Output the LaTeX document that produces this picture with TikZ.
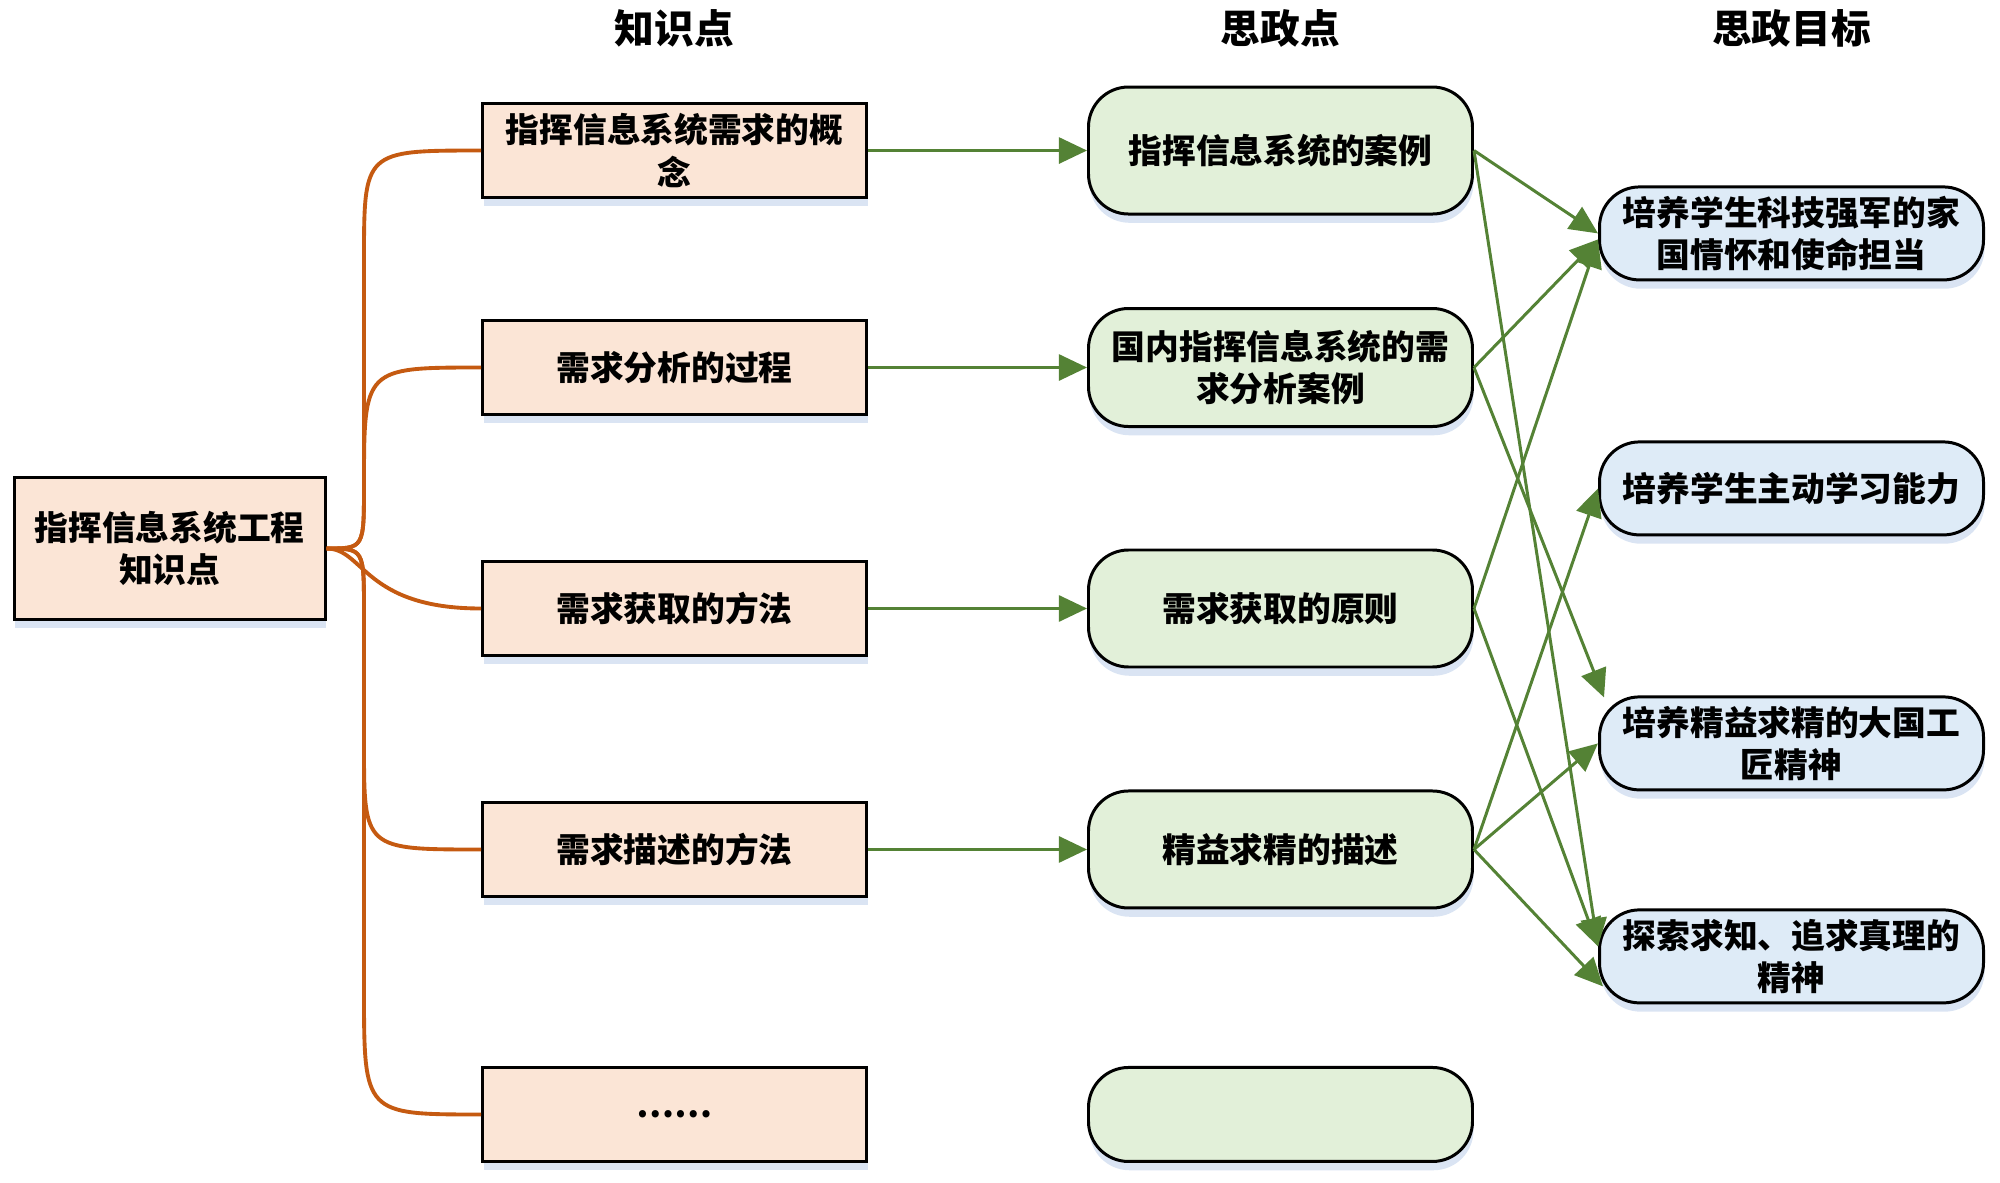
\documentclass[tikz,border=0pt]{standalone}
\usepackage{fontspec}
\setmainfont{Noto Sans CJK SC}
\usepackage{xcolor}
\usepackage{tikz}
\usetikzlibrary{positioning, calc, arrows.meta, shadows}
\definecolor{kpfill}{RGB}{251,229,214}
\definecolor{szfill}{RGB}{226,240,217}
\definecolor{goalfill}{RGB}{222,235,247}
\definecolor{kpline}{RGB}{197,90,17}
\definecolor{szline}{RGB}{84,130,53}
\definecolor{shade}{RGB}{218,228,243}

\begin{document}
\begin{tikzpicture}[
    > = {Triangle[length=8pt, width=7.4pt]}, align=center,
    font = \fontsize{9.6}{12}\selectfont\bfseries,
    box/.style = {draw, line width=0.85pt, inner sep=1pt, minimum width=3.84cm, minimum height=0.94cm,
                  drop shadow={shadow xshift=0.3pt, shadow yshift=-2.5pt, fill=shade, opacity=1}},
    knowledge/.style = {box, rectangle, fill=kpfill},
    ideology/.style = {box, rounded corners=0.4cm, fill=szfill},
    goal/.style = {box, rounded corners=0.4cm, fill=goalfill, minimum height=0.93cm},
    header/.style = {font=\fontsize{11.3}{13}\selectfont\bfseries},
    branch/.style = {draw=kpline, line width=1.1pt},
    link/.style = {->, draw=szline, line width=0.85pt},
    ]
    \useasboundingbox (0,0) rectangle (20,-11.82);

    % left: root and knowledge points
    \node [knowledge, minimum width=3.11cm, minimum height=1.42cm] (root) at (1.697,-5.485) {指挥信息系统工程\\知识点};
    \node [knowledge] (kp1) at (6.745,-1.505) {指挥信息系统需求的概\\念};
    \node [knowledge] (kp2) [below = 1.2cm of kp1]  {需求分析的过程};
    \node [knowledge] (kp3) [below = 1.44cm of kp2] {需求获取的方法};
    \node [knowledge] (kp4) [below = 1.44cm of kp3] {需求描述的方法};
    \node [knowledge] (kp5) [below = 1.68cm of kp4] {……};

    % middle: ideological points
    \node [ideology, minimum height=1.27cm] (sz1) [right = 2.19cm of kp1] {指挥信息系统的案例};
    \node [ideology, minimum height=1.18cm] (sz2) [right = 2.19cm of kp2] {国内指挥信息系统的需\\求分析案例};
    \node [ideology, minimum height=1.17cm] (sz3) [right = 2.19cm of kp3] {需求获取的原则};
    \node [ideology, minimum height=1.17cm] (sz4) [right = 2.19cm of kp4] {精益求精的描述};
    \node [ideology]                        (sz5) [right = 2.19cm of kp5] {};

    % right: goals
    \node [goal] (goal1) at (17.915,-2.334) {培养学生科技强军的家\\国情怀和使命担当};
    \node [goal] (goal2) [below = 1.59cm of goal1] {培养学生主动学习能力};
    \node [goal] (goal3) [below = 1.59cm of goal2] {培养精益求精的大国工\\匠精神};
    \node [goal] (goal4) [below = 1.17cm of goal3] {探索求知、追求真理的\\精神};

    % column titles
    \node [header] (hkp)   at (kp1 |- 0,-0.28)   {知识点};
    \node [header] (hsz)   at (sz1 |- 0,-0.28)   {思政点};
    \node [header] (hgoal) at (goal1 |- 0,-0.28) {思政目标};

    % draw branches
    \draw [branch] (root.east) .. controls (3.64,-5.485) .. (3.64,-4.85) -- (3.64,-2.6) .. controls (3.64,-1.505) .. (kp1.west);
    \draw [branch] (root.east) .. controls (3.64,-5.485) .. (3.64,-4.85) .. controls (3.64,-3.675) .. (kp2.west);
    \draw [branch] (root.east) .. controls (3.64,-5.485) and (3.64,-6.085) .. (kp3.west);
    \draw [branch] (root.east) .. controls (3.64,-5.485) .. (3.64,-6.12) -- (3.64,-7.45) .. controls (3.64,-8.495) .. (kp4.west);
    \draw [branch] (root.east) .. controls (3.64,-5.485) .. (3.64,-6.12) -- (3.64,-9.9) .. controls (3.64,-11.145) .. (kp5.west);

    % draw paths
    \foreach \i in {1,...,4}
        \draw [link] (kp\i.east) -- (sz\i.west);
    \draw [link] (sz1.east) -- (goal1.west);
    \draw [link] (sz1.east) -- ([yshift=1mm]goal4.west);
    \draw [link] (sz2.east) -- ([yshift=-0.6mm]goal1.west);
    \draw [link] (sz2.east) -- ([xshift=0.6mm, yshift=-0.2mm]goal3.north west);
    \draw [link] (sz3.east) -- ([yshift=-0.6mm]goal1.west);
    \draw [link] (sz3.east) -- ([yshift=1mm]goal4.west);
    \draw [link] (sz4.east) -- (goal2.west);
    \draw [link] (sz4.east) -- (goal3.west);
    \draw [link] (sz4.east) -- ([xshift=0.5mm, yshift=-3mm]goal4.west);
\end{tikzpicture}
\end{document}
